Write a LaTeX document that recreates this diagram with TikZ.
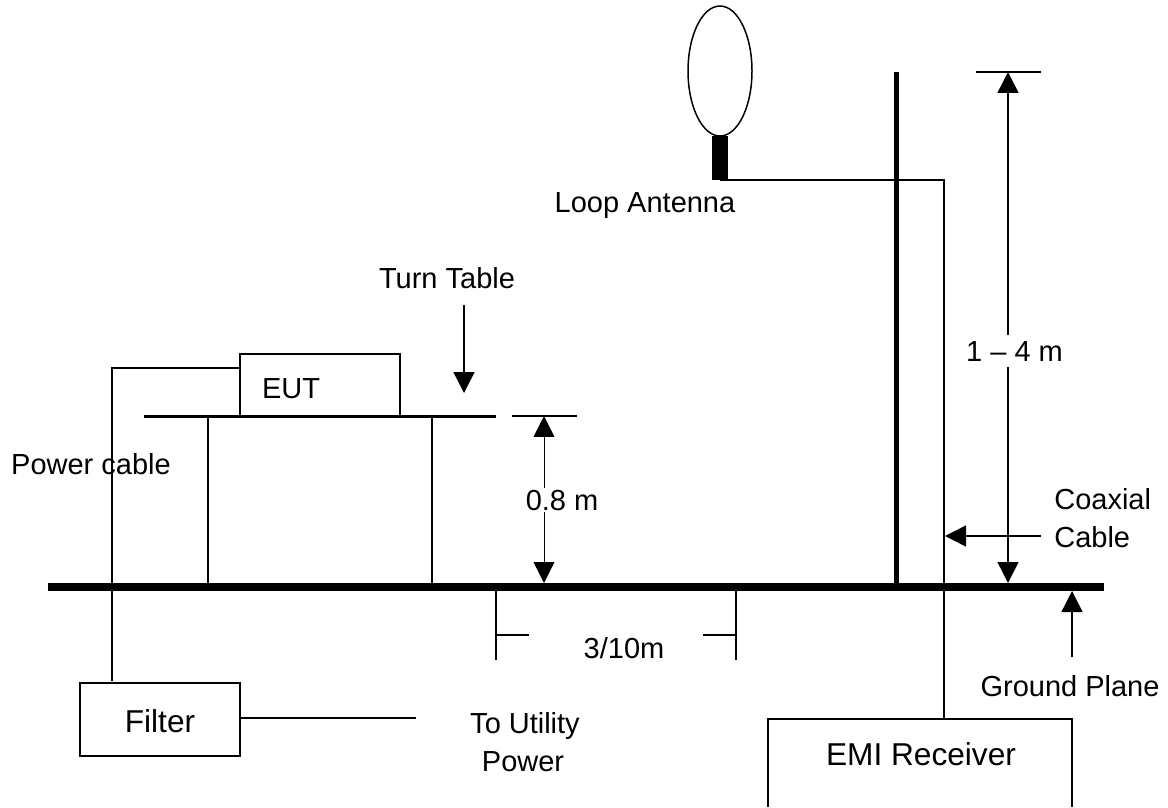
\documentclass[tikz,border=0pt]{standalone}
\usepackage{fontspec}
\setmainfont{Liberation Sans}
\usetikzlibrary{positioning,arrows.meta,calc,shapes.geometric}
\tikzset{
  wire/.style={line width=0.85pt},
  dimline/.style={line width=0.85pt,{Triangle[length=0.42cm,width=0.42cm]}-{Triangle[length=0.42cm,width=0.42cm]}},
  pointer/.style={line width=0.85pt,-{Triangle[length=0.42cm,width=0.42cm]}},
  txt/.style={anchor=base,inner sep=0pt,font=\fontsize{16.5}{18}\selectfont},
  bigtxt/.style={anchor=base,inner sep=0pt,font=\fontsize{18}{20}\selectfont},
  boxnode/.style={draw,line width=0.85pt,inner sep=0pt}
}
\begin{document}
\begin{tikzpicture}[x=0.02cm,y=-0.02cm]
\useasboundingbox (0,0) rectangle (1168,807);
\coordinate (gndL) at (48,587);
\coordinate (gndR) at (1104,587);
\draw[line width=0.16cm] (gndL) -- (gndR);
\coordinate (poleT) at (896,72);
\coordinate (poleB) at (896,587);
\draw[line width=0.1cm] (poleT) -- (poleB);
\node[draw,line width=0.85pt,ellipse,minimum width=1.28cm,minimum height=2.6cm,inner sep=0pt] (loop) at (720,71) {};
\fill (712,136) rectangle (728,180);
\coordinate (antFoot) at (720,180);
\coordinate (cableBend) at (944,180);
\coordinate (emiIn) at (944,719);
\draw[wire] (antFoot) -- (cableBend) -- (emiIn);
\coordinate (emiBL) at (768,807);
\coordinate (emiTL) at (768,719);
\coordinate (emiTR) at (1072,719);
\coordinate (emiBR) at (1072,807);
\draw[wire] (emiBL) -- (emiTL) -- (emiTR) -- (emiBR);
\node[bigtxt] (emi) at (921,765) {EMI Receiver};
\coordinate (topL) at (976,72);
\coordinate (topR) at (1041,72);
\draw[wire] (topL) -- (topR);
\coordinate (hTop) at (1008,72);
\coordinate (hBot) at (1008,583);
\draw[dimline] (hTop) -- (hBot);
\node[txt,fill=white,inner ysep=0.12cm] (hLabel) at (1014.5,361) {1 -- 4 m};
\coordinate (coaxFrom) at (1041,536);
\coordinate (coaxTo) at (945,536);
\draw[pointer] (coaxFrom) -- (coaxTo);
\node[txt,anchor=base west] (coax) at (1054,509) {Coaxial};
\node[txt,anchor=base west] (coaxb) at (1054,547) {Cable};
\coordinate (gpFrom) at (1072,657);
\coordinate (gpTo) at (1072,591);
\draw[pointer] (gpFrom) -- (gpTo);
\node[txt] (gp) at (1070,696) {Ground Plane};
\node[txt] (loopLabel) at (645,213) {Loop Antenna};
\node[txt] (turn) at (447,288) {Turn Table};
\coordinate (turnFrom) at (464,305);
\coordinate (turnTo) at (464,393);
\draw[pointer] (turnFrom) -- (turnTo);
\coordinate (tableL) at (144,416);
\coordinate (tableR) at (496,416);
\draw[line width=0.06cm] (tableL) -- (tableR);
\node[boxnode,minimum width=3.2cm,minimum height=1.24cm] (eut) at (320,385) {};
\node[txt] (eutLabel) at (291,398) {EUT};
\coordinate (legA) at (208,416);
\coordinate (legAb) at (208,587);
\coordinate (legB) at (432,416);
\coordinate (legBb) at (432,587);
\draw[wire] (legA) -- (legAb);
\draw[wire] (legB) -- (legBb);
\coordinate (eutOut) at (240,368);
\coordinate (pwrBend) at (112,368);
\coordinate (pwrEnd) at (112,681);
\draw[wire] (eutOut) -- (pwrBend) -- (pwrEnd);
\node[txt] (pwr) at (91,474) {Power cable};
\coordinate (tblDimL) at (512,416);
\coordinate (tblDimR) at (577,416);
\draw[wire] (tblDimL) -- (tblDimR);
\coordinate (dTop) at (544,416);
\coordinate (dBot) at (544,583);
\draw[dimline,line width=0.5pt] (dTop) -- (dBot);
\node[txt,fill=white,inner ysep=0.04cm] (dLabel) at (562,510) {0.8 m};
\coordinate (tickAt) at (496,591);
\coordinate (tickAb) at (496,660);
\coordinate (tickBt) at (736,591);
\coordinate (tickBb) at (736,660);
\draw[wire] (tickAt) -- (tickAb);
\draw[wire] (tickBt) -- (tickBb);
\coordinate (tickAm) at (496,635);
\coordinate (tickAe) at (529,635);
\coordinate (tickBm) at (736,635);
\coordinate (tickBe) at (703,635);
\draw[wire] (tickAm) -- (tickAe);
\draw[wire] (tickBm) -- (tickBe);
\node[txt] (dist) at (624,658) {3/10m};
\node[boxnode,minimum width=3.2cm,minimum height=1.46cm] (filter) at (160,719.5) {};
\node[bigtxt] (filterLabel) at (160,732) {Filter};
\coordinate (utilEnd) at (416,718);
\draw[wire] (filter.east |- utilEnd) -- (utilEnd);
\node[txt] (util) at (525,733) {To Utility};
\node[txt] (utilb) at (523,771) {Power};
\end{tikzpicture}
\end{document}
